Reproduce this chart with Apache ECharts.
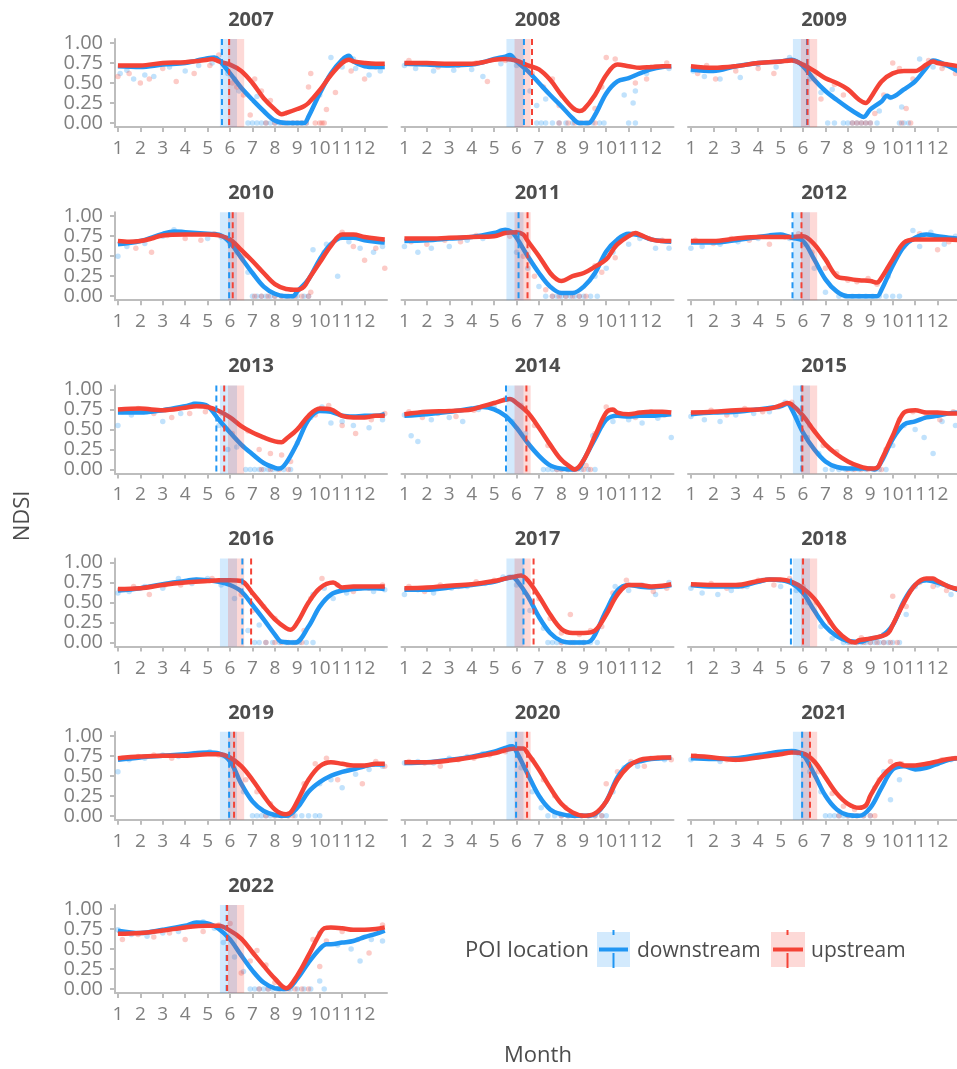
<!DOCTYPE html>
<html><head><meta charset="utf-8">
<script src="https://cdn.jsdelivr.net/npm/echarts@6/dist/echarts.min.js"></script>
<style>html,body{margin:0;padding:0;background:#fff}#c{width:957px;height:1069px}</style>
</head><body><div id="c"></div>
<script>
const years = [2007,2008,2009,2010,2011,2012,2013,2014,2015,2016,2017,2018,2019,2020,2021,2022];
const monthTicks = [1,2,3,4,5,6,7,8,9,10,11,12];
const ndsiTicks = [0,0.25,0.5,0.75,1];
const bandDownstream = [5.55, 6.31];
const bandUpstream = [5.91, 6.63];
const onsetDown = [5.64,6.33,6.18,5.96,6.09,5.53,5.39,5.53,5.93,6.55,6.31,5.46,5.96,5.98,5.96,5.85];
const onsetUp   = [5.96,6.69,6.20,6.12,6.49,5.93,5.74,6.44,5.97,6.94,6.76,6.00,6.18,6.47,6.31,5.87];

const down2007 = [[1,.71],[2,.70],[3,.73],[4,.75],[4.5,.78],[5,.81],[5.3,.82],[5.5,.79],[6,.62],[6.5,.44],[7,.29],[7.5,.15],[8,.03],[8.5,0],[9,0],[9.3,0],[9.5,.08],[10,.37],[10.5,.62],[11,.79],[11.3,.84],[11.5,.77],[12,.71],[12.5,.70],[12.9,.70]];
const up2007 = [[1,.72],[2,.72],[3,.75],[4,.76],[5,.79],[5.2,.80],[5.5,.77],[6,.73],[6.5,.65],[7,.50],[7.5,.31],[8,.17],[8.3,.11],[8.5,.125],[9,.175],[9.3,.21],[9.5,.25],[10,.41],[10.5,.60],[11,.75],[11.3,.79],[11.5,.77],[12,.75],[12.5,.74],[12.9,.74]];
const down2008 = [[1,.74],[2,.73],[3,.72],[4,.73],[4.5,.76],[5,.80],[5.5,.83],[5.7,.85],[6,.77],[6.5,.65],[7,.50],[7.5,.35],[8,.21],[8.5,.06],[8.8,0],[9.2,0],[9.5,.10],[10,.37],[10.5,.52],[11,.56],[11.5,.62],[12,.67],[12.5,.70],[12.9,.71]];
const up2008 = [[1,.75],[2,.75],[3,.74],[4,.74],[4.5,.76],[5,.79],[5.5,.80],[6,.78],[6.5,.72],[7,.67],[7.5,.54],[8,.35],[8.5,.19],[8.8,.15],[9,.17],[9.5,.35],[10,.60],[10.5,.73],[11,.71],[11.5,.69],[12,.70],[12.5,.71],[12.9,.71]];
const down2009 = [[1,.67],[2,.65],[3,.71],[4,.75],[5,.77],[5.5,.79],[6,.71],[6.5,.54],[7,.40],[7.5,.29],[8,.19],[8.5,.10],[8.7,.075],[9,.17],[9.5,.27],[9.75,.34],[9.9,.32],[10.5,.42],[11,.52],[11.5,.69],[11.8,.78],[12,.77],[12.5,.71],[12.9,.65]];
const up2009 = [[1,.71],[2,.69],[3,.71],[4,.75],[5,.77],[5.5,.78],[6,.73],[6.5,.65],[7,.56],[7.5,.50],[8,.42],[8.5,.29],[8.8,.25],[9,.31],[9.5,.52],[10,.62],[10.5,.65],[11,.65],[11.5,.73],[11.8,.77],[12,.75],[12.5,.73],[12.9,.71]];
const down2010 = [[1,.65],[2,.69],[3,.78],[3.5,.81],[4,.80],[5,.78],[5.5,.77],[6,.67],[6.5,.48],[7,.29],[7.5,.12],[8,.03],[8.5,0],[8.8,0],[9,.06],[9.5,.21],[10,.46],[10.5,.65],[11,.73],[11.5,.73],[12,.70],[12.5,.68],[12.9,.67]];
const up2010 = [[1,.69],[1.5,.68],[2,.69],[2.5,.72],[3,.76],[4,.77],[5,.77],[5.5,.76],[6,.71],[6.5,.58],[7,.44],[7.5,.29],[8,.15],[8.5,.09],[9,.08],[9.3,.12],[9.5,.21],[10,.42],[10.5,.63],[11,.77],[11.5,.77],[12,.74],[12.5,.72],[12.9,.71]];
const down2011 = [[1,.69],[2,.70],[3,.72],[4,.74],[5,.79],[5.5,.83],[5.8,.80],[6,.73],[6.5,.50],[7,.29],[7.5,.12],[8,.04],[8.5,.04],[9,.12],[9.5,.29],[10,.56],[10.5,.71],[11,.78],[11.5,.76],[12,.71],[12.5,.69],[12.9,.68]];
const up2011 = [[1,.72],[2,.72],[3,.73],[4,.74],[5,.75],[5.5,.79],[6,.80],[6.3,.77],[6.5,.69],[7,.50],[7.5,.29],[7.8,.21],[8,.19],[8.5,.25],[9,.29],[9.5,.37],[10,.46],[10.3,.58],[10.5,.65],[11,.75],[11.3,.79],[11.5,.77],[12,.71],[12.5,.69],[12.9,.69]];
const down2012 = [[1,.67],[2,.67],[3,.70],[4,.74],[4.5,.76],[5,.77],[5.3,.75],[5.5,.73],[6,.69],[6.5,.46],[7,.21],[7.5,.06],[8,0],[8.5,0],[9,0],[9.3,0],[9.5,.08],[10,.38],[10.5,.62],[11,.73],[11.5,.77],[12,.75],[12.5,.73],[12.9,.72]];
const up2012 = [[1,.69],[2,.69],[3,.72],[4,.74],[5,.74],[5.5,.74],[6,.75],[6.5,.65],[7,.46],[7.5,.25],[8,.22],[8.5,.20],[9,.19],[9.3,.17],[9.5,.23],[10,.46],[10.5,.67],[11,.71],[11.5,.71],[12,.71],[12.5,.71],[12.9,.70]];
const down2013 = [[1,.71],[2,.71],[3,.74],[4,.79],[4.5,.82],[5,.79],[5.5,.62],[6,.46],[6.5,.31],[7,.19],[7.5,.08],[8,.02],[8.2,.01],[8.5,.08],[9,.33],[9.5,.62],[10,.73],[10.5,.72],[11,.67],[11.5,.66],[12,.67],[12.5,.67],[12.9,.69]];
const up2013 = [[1,.75],[2,.76],[3,.74],[4,.77],[4.5,.79],[5,.78],[5.5,.73],[6,.65],[6.5,.54],[7,.46],[7.5,.40],[8,.35],[8.3,.34],[8.5,.38],[9,.50],[9.5,.67],[10,.76],[10.5,.75],[11,.67],[11.5,.65],[12,.65],[12.5,.67],[12.9,.67]];
const down2014 = [[1,.67],[2,.69],[3,.72],[4,.76],[4.5,.78],[5,.75],[5.5,.67],[6,.52],[6.5,.33],[7,.17],[7.5,.05],[8,.01],[8.5,0],[8.8,.02],[9,.12],[9.5,.38],[10,.62],[10.5,.67],[11,.66],[11.5,.67],[12,.67],[12.5,.68],[12.9,.69]];
const up2014 = [[1,.69],[2,.72],[3,.73],[4,.75],[4.5,.79],[5,.83],[5.5,.87],[5.7,.88],[6,.83],[6.5,.71],[7,.52],[7.5,.31],[8,.12],[8.5,.01],[8.6,0],[9,.12],[9.5,.42],[10,.71],[10.3,.75],[10.5,.71],[11,.69],[11.5,.71],[12,.72],[12.5,.72],[12.9,.71]];
const down2015 = [[1,.69],[2,.71],[3,.72],[4,.75],[5,.79],[5.3,.82],[5.5,.75],[6,.46],[6.5,.25],[7,.10],[7.5,.03],[8,.01],[9,.01],[9.2,0],[9.5,.10],[10,.38],[10.5,.56],[11,.60],[11.5,.65],[12,.67],[12.5,.70],[12.9,.71]];
const up2015 = [[1,.71],[2,.72],[3,.74],[4,.75],[4.5,.76],[5,.80],[5.3,.83],[5.5,.81],[6,.67],[6.5,.48],[7,.31],[7.5,.19],[8,.10],[8.5,.04],[9,.01],[9.3,.02],[9.5,.12],[10,.42],[10.5,.71],[11,.74],[11.5,.71],[12,.71],[12.5,.70],[12.9,.70]];
const down2016 = [[1,.65],[2,.68],[3,.73],[4,.77],[4.5,.79],[5,.78],[5.5,.76],[6,.72],[6.5,.64],[7,.47],[7.5,.29],[8,.10],[8.3,.01],[8.9,0],[9.5,.20],[10,.45],[10.5,.60],[11,.65],[11.5,.67],[12,.68],[12.5,.68],[12.9,.67]];
const up2016 = [[1,.67],[2,.68],[3,.72],[4,.75],[5,.77],[5.5,.78],[6,.78],[6.5,.77],[7,.62],[7.5,.45],[8,.29],[8.5,.18],[8.7,.16],[9,.25],[9.5,.50],[10,.68],[10.6,.75],[11,.69],[11.5,.70],[12,.70],[12.5,.70],[12.9,.70]];
const down2017 = [[1,.66],[2,.66],[3,.69],[4,.72],[5,.76],[5.5,.80],[5.8,.82],[6,.78],[6.5,.58],[7,.32],[7.5,.12],[8,.02],[8.5,0],[9,0],[9.3,.02],[9.5,.10],[10,.40],[10.5,.65],[11,.72],[11.5,.70],[12,.69],[12.5,.70],[12.9,.72]];
const up2017 = [[1,.68],[2,.69],[3,.71],[4,.73],[5,.77],[5.5,.80],[6,.83],[6.2,.84],[6.5,.78],[7,.58],[7.5,.35],[8,.17],[8.5,.12],[9,.12],[9.5,.15],[10,.35],[10.5,.60],[11,.72],[11.5,.72],[12,.70],[12.5,.71],[12.9,.73]];
const down2018 = [[1,.72],[2,.70],[3,.70],[4,.76],[4.5,.79],[5,.78],[5.5,.74],[6,.62],[6.5,.40],[7,.20],[7.5,.08],[8,.02],[8.5,.01],[9,.05],[9.5,.08],[10,.22],[10.5,.52],[11,.72],[11.5,.78],[12,.75],[12.5,.70],[12.9,.66]];
const up2018 = [[1,.73],[2,.72],[3,.72],[4,.77],[4.5,.79],[5,.79],[5.5,.76],[6,.68],[6.5,.55],[7,.35],[7.5,.15],[8,.03],[8.3,0],[8.5,.03],[9,.05],[9.5,.08],[9.8,.12],[10,.22],[10.5,.50],[11,.72],[11.5,.80],[11.8,.80],[12,.77],[12.5,.70],[12.9,.67]];
const down2019 = [[1,.70],[2,.73],[3,.75],[4,.77],[5,.79],[5.5,.78],[6,.68],[6.5,.40],[7,.18],[7.5,.06],[8,.01],[8.5,0],[9,.10],[9.5,.30],[10,.42],[10.5,.50],[11,.55],[11.5,.58],[12,.62],[12.5,.64],[12.9,.64]];
const up2019 = [[1,.72],[2,.74],[3,.75],[4,.75],[5,.77],[5.5,.77],[6,.73],[6.5,.62],[7,.45],[7.5,.25],[8,.08],[8.5,.02],[8.7,.04],[9,.18],[9.5,.45],[10,.62],[10.5,.67],[11,.65],[11.5,.63],[12,.63],[12.5,.65],[12.9,.65]];
const down2020 = [[1,.66],[2,.67],[3,.70],[4,.74],[5,.80],[5.5,.85],[5.8,.87],[6,.80],[6.5,.52],[7,.25],[7.5,.08],[8,.02],[8.5,0],[9,0],[9.5,.02],[10,.18],[10.5,.48],[11,.64],[11.5,.68],[12,.71],[12.5,.72],[12.9,.73]];
const up2020 = [[1,.67],[2,.67],[3,.69],[4,.73],[5,.78],[5.5,.82],[6,.84],[6.3,.84],[6.5,.78],[7,.58],[7.5,.35],[8,.15],[8.5,.04],[9,0],[9.5,.03],[10,.18],[10.5,.45],[11,.62],[11.5,.70],[12,.72],[12.5,.73],[12.9,.73]];
const down2021 = [[1,.72],[2,.71],[3,.72],[4,.76],[5,.80],[5.5,.81],[6,.76],[6.5,.52],[7,.25],[7.5,.08],[8,.01],[8.5,0],[9,.10],[9.5,.35],[10,.58],[10.5,.62],[11,.58],[11.5,.60],[12,.65],[12.5,.70],[12.9,.72]];
const up2021 = [[1,.75],[2,.73],[3,.70],[4,.73],[5,.77],[5.5,.79],[6,.78],[6.5,.68],[7,.48],[7.5,.28],[8,.15],[8.5,.10],[8.8,.13],[9,.25],[9.5,.48],[10,.62],[10.3,.65],[10.5,.63],[11,.63],[11.5,.65],[12,.68],[12.5,.71],[12.9,.72]];
const down2022 = [[1,.73],[2,.70],[3,.74],[4,.79],[4.5,.83],[5,.82],[5.5,.75],[6,.62],[6.5,.42],[7,.23],[7.5,.08],[8,.01],[8.5,0],[9,.13],[9.5,.33],[10,.50],[10.3,.56],[10.5,.56],[11,.58],[11.5,.60],[12,.65],[12.5,.69],[12.9,.73]];
const up2022 = [[1,.69],[2,.70],[3,.73],[4,.77],[5,.79],[5.5,.79],[6,.73],[6.5,.63],[7,.46],[7.5,.29],[8,.13],[8.5,.01],[9,.17],[9.5,.42],[10,.69],[10.2,.76],[10.5,.77],[11,.76],[11.5,.74],[12,.74],[12.5,.75],[12.9,.77]];

const ptsDown2007 = [[1.1,.62],[1.4,.66],[1.7,.55],[2.2,.60],[2.6,.58],[3.3,.70],[4.0,.65],[4.6,.72],[5.2,.75],[5.8,.70],[5.9,.62],[6.2,.55],[6.4,.40],[7.2,.33],[6.8,0],[7.0,0],[7.2,0],[7.4,0],[7.6,0],[7.8,0],[8.0,0],[8.2,0],[8.4,0],[8.6,0],[8.8,0],[9.0,0],[9.2,0],[9.4,0],[10.0,.35],[10.5,.82],[11.0,.70],[11.2,.82],[11.5,.80],[11.6,.68],[12.2,.60],[12.7,.65]];
const ptsUp2007 = [[1.0,.58],[1.5,.62],[2.0,.50],[2.4,.55],[3.0,.68],[3.6,.52],[4.4,.62],[5.1,.72],[5.5,.85],[6.1,.50],[6.3,.45],[6.6,.35],[6.9,.1],[7.1,.55],[7.4,.40],[7.8,.28],[7.6,0],[8.0,0],[8.3,0],[8.5,0],[8.8,0],[9.0,0],[9.2,0],[9.4,0],[9.5,.45],[9.6,.62],[9.8,0],[10.0,0],[10.1,0],[10.2,0],[10.3,.17],[10.7,.38],[11.0,.78],[11.2,.82],[11.4,.65],[12.0,.55],[12.5,.70]];
const ptsDown2008 = [[1.0,.72],[1.5,.68],[2.3,.65],[3.2,.66],[4.0,.67],[4.5,.58],[5.3,.74],[6.0,.72],[6.6,.40],[6.9,.22],[7.3,.30],[6.9,0],[7.1,0],[7.3,0],[7.6,0],[7.9,0],[8.2,0],[8.5,0],[8.8,0],[9.1,0],[9.4,0],[9.7,0],[9.9,0],[10.8,.35],[11.0,0],[11.3,0],[11.2,.25],[11.3,.40],[11.8,.62],[12.3,.70],[12.8,.68]];
const ptsUp2008 = [[1.2,.78],[1.8,.74],[2.5,.70],[3.4,.72],[4.2,.75],[4.7,.52],[5.5,.78],[6.2,.75],[6.7,.62],[7.2,.45],[7.6,.55],[7.9,.22],[7.9,0],[8.3,0],[8.6,0],[8.9,0],[9.2,0],[9.5,0],[9.5,.18],[9.8,.45],[10.0,.82],[10.4,.80],[11.3,.50],[11.8,.55],[12.2,.70],[12.7,.75]];
const ptsDown2009 = [[1.1,.65],[1.6,.58],[2.3,.55],[3.2,.57],[4.0,.73],[4.8,.70],[5.4,.82],[6.3,.55],[6.8,.38],[7.3,.42],[7.1,0],[7.4,0],[7.8,0],[8.0,0],[8.2,0],[8.4,0],[8.6,0],[8.8,0],[9.0,0],[9.3,0],[9.4,.15],[9.9,.32],[10.3,0],[10.5,0],[10.7,0],[10.4,.20],[11.2,.80],[11.8,.70],[12.3,.72],[12.9,.65]];
const ptsUp2009 = [[1.3,.62],[1.7,.72],[2.1,.55],[3.0,.65],[4.0,.68],[4.7,.62],[5.3,.78],[6.2,.65],[6.8,.30],[7.4,.48],[7.8,.35],[8.2,0],[8.4,0],[8.6,0],[8.8,0],[9.0,0],[9.2,.12],[9.6,.35],[10.0,.75],[10.3,.68],[10.4,0],[10.6,.18],[10.8,0],[10.9,.55],[11.6,.78],[12.2,.68],[12.8,.62]];
const ptsDown2010 = [[1.0,.50],[1.4,.62],[2.2,.66],[3.0,.75],[3.5,.83],[4.3,.78],[5.0,.72],[5.6,.74],[6.3,.55],[6.8,.30],[7.0,0],[7.2,0],[7.4,0],[7.6,0],[7.8,0],[8.0,0],[8.3,0],[8.5,0],[8.8,0],[9.0,0],[9.3,0],[9.5,0],[9.7,.58],[10.3,.65],[10.8,.25],[11.3,.68],[11.8,.60],[12.4,.55],[12.8,.62]];
const ptsUp2010 = [[1.2,.66],[1.8,.60],[2.5,.55],[3.2,.76],[4.0,.72],[4.7,.70],[5.3,.78],[6.0,.65],[6.6,.50],[7.1,0],[7.4,0],[7.7,0],[8.0,0],[8.3,0],[8.6,0],[8.9,0],[9.2,0],[9.5,0],[9.6,.05],[10.2,.55],[11.0,.80],[11.5,.62],[12.0,.45],[12.5,.60],[12.9,.35]];
const ptsDown2011 = [[1.0,.62],[1.6,.55],[2.2,.60],[3.0,.62],[3.8,.70],[4.5,.72],[5.3,.82],[6.0,.55],[6.5,.35],[7.0,.12],[7.3,0],[7.6,0],[7.8,0],[8.0,0],[8.2,0],[8.4,0],[8.6,0],[8.8,0],[9.0,0],[9.3,0],[9.6,0],[9.5,.25],[10.0,.35],[10.3,.55],[11.0,.65],[11.5,.72],[12.2,.60],[12.8,.60]];
const ptsUp2011 = [[1.3,.68],[2.0,.65],[2.8,.70],[3.5,.68],[4.2,.76],[5.0,.78],[5.7,.75],[6.3,.50],[6.8,.25],[7.3,.08],[7.6,0],[7.9,0],[8.2,0],[8.5,0],[8.8,0],[9.1,0],[9.5,.38],[9.8,.30],[10.4,.48],[11.2,.78],[11.9,.72],[12.5,.70]];
const ptsDown2012 = [[1.0,.60],[1.5,.62],[2.3,.65],[3.1,.68],[4.0,.72],[4.8,.75],[5.4,.72],[6.0,.65],[6.5,.35],[7.0,.05],[7.6,0],[7.9,0],[8.2,0],[8.5,0],[8.8,0],[9.1,0],[9.4,0],[9.7,0],[10.0,0],[10.3,0],[9.8,.25],[10.9,.82],[11.2,.62],[11.7,.80],[12.3,.65],[12.8,.75]];
const ptsUp2012 = [[1.2,.70],[2.0,.66],[2.8,.72],[3.6,.70],[4.5,.65],[5.2,.74],[5.8,.78],[6.4,.55],[7.0,.35],[7.5,.28],[8.0,.20],[8.4,.18],[8.9,.22],[9.3,.15],[9.8,.35],[10.5,.62],[11.2,.78],[12.0,.58],[12.5,.68]];
const ptsDown2013 = [[1.0,.55],[1.6,.68],[2.3,.72],[3.0,.60],[3.8,.70],[4.4,.82],[5.0,.78],[5.5,.55],[5.9,.25],[6.3,.28],[6.7,0],[6.9,0],[7.1,0],[7.3,0],[7.5,0],[7.7,0],[7.9,0],[8.1,0],[8.4,0],[8.7,0],[9.0,.33],[9.6,.65],[10.1,.78],[10.5,.58],[11.0,.60],[11.5,.55],[12.2,.52],[12.8,.62]];
const ptsUp2013 = [[1.2,.72],[1.9,.76],[2.6,.70],[3.4,.65],[4.2,.70],[4.9,.72],[5.6,.70],[6.1,.45],[6.8,.48],[7.3,.25],[7.8,.20],[8.3,.18],[8.7,.10],[7.4,0],[7.8,0],[8.2,0],[8.6,0],[9.2,.55],[9.8,.68],[10.4,.80],[11.0,.55],[11.6,.45],[12.3,.62],[12.9,.70]];
const ptsDown2014 = [[1.0,.68],[1.3,.42],[1.6,.35],[2.2,.62],[3.0,.65],[3.6,.60],[4.3,.75],[5.0,.78],[5.8,.60],[6.4,.45],[7.2,0],[7.4,0],[7.6,0],[7.8,0],[8.0,0],[8.3,0],[8.6,0],[8.9,0],[9.2,0],[9.5,0],[9.4,.42],[9.8,.55],[10.3,.60],[11.0,.62],[11.6,.58],[12.3,.64],[12.9,.40]];
const ptsUp2014 = [[1.2,.72],[1.8,.65],[2.5,.70],[3.3,.66],[4.1,.74],[4.8,.80],[5.5,.88],[6.2,.80],[6.8,.55],[7.4,.30],[7.8,0],[8.0,0],[8.3,0],[8.5,0],[8.7,0],[9.0,0],[9.3,0],[9.1,.05],[9.5,.45],[10.0,.78],[10.6,.68],[11.3,.65],[12.0,.72],[12.6,.68]];
const ptsDown2015 = [[1.0,.66],[1.6,.62],[2.3,.60],[3.0,.68],[3.8,.70],[4.5,.72],[5.2,.84],[5.8,.65],[6.2,.40],[6.7,.20],[7.0,0],[7.3,0],[7.6,0],[7.9,0],[8.2,0],[8.5,0],[8.8,0],[9.1,0],[9.4,0],[9.7,0],[10.0,.30],[10.5,.55],[11.0,.50],[11.4,.40],[11.8,.20],[12.2,.60],[12.8,.55]];
const ptsUp2015 = [[1.2,.70],[1.9,.74],[2.6,.68],[3.4,.76],[4.2,.72],[4.9,.78],[5.5,.84],[6.3,.55],[6.9,.30],[7.5,.22],[8.0,0],[8.3,0],[8.6,0],[8.9,0],[9.2,0],[9.5,0],[9.7,.25],[10.3,.62],[10.9,.72],[11.5,.68],[12.1,.62],[12.7,.72]];
const ptsDown2016 = [[1.0,.62],[1.5,.64],[2.2,.70],[3.0,.68],[3.7,.80],[4.3,.74],[5.0,.80],[5.6,.72],[6.2,.55],[6.8,.15],[7.3,.22],[7.1,0],[7.3,0],[7.6,0],[7.9,0],[8.2,0],[8.5,0],[8.8,0],[9.1,0],[9.4,0],[9.7,0],[9.7,.60],[10.2,.68],[10.6,.55],[11.2,.62],[11.8,.68],[12.4,.64],[12.9,.66]];
const ptsUp2016 = [[1.1,.66],[1.7,.70],[2.4,.60],[3.1,.72],[3.8,.72],[4.5,.78],[5.2,.80],[5.9,.76],[6.5,.60],[7.0,.40],[7.5,.45],[8.0,.30],[7.6,0],[8.0,0],[8.3,0],[8.6,0],[8.9,0],[9.2,0],[9.3,.15],[9.6,.55],[10.1,.80],[10.8,.72],[11.5,.64],[12.2,.68],[12.8,.72]];
const ptsDown2017 = [[1.0,.60],[1.6,.66],[2.3,.62],[3.1,.68],[3.8,.70],[4.6,.74],[5.4,.82],[6.0,.72],[6.6,.40],[7.2,.18],[7.4,0],[7.6,0],[7.8,0],[8.0,0],[8.2,0],[8.4,0],[8.6,0],[8.8,0],[9.0,0],[9.3,0],[9.6,0],[9.9,.32],[10.4,.70],[11.0,.65],[11.6,.72],[12.2,.60],[12.8,.75]];
const ptsUp2017 = [[1.2,.70],[1.9,.64],[2.6,.72],[3.4,.70],[4.2,.76],[5.0,.78],[5.7,.82],[6.4,.80],[7.0,.55],[7.5,.30],[8.0,.12],[8.4,.35],[8.8,.10],[8.0,0],[8.5,0],[9.0,0],[9.3,.15],[9.8,.20],[10.3,.62],[10.9,.78],[11.5,.70],[12.1,.64],[12.7,.68]];
const ptsDown2018 = [[1.0,.68],[1.5,.62],[2.2,.60],[2.8,.65],[3.5,.70],[4.2,.78],[5.0,.70],[5.7,.65],[6.2,.50],[6.8,.20],[7.3,.05],[7.8,0],[8.0,0],[8.2,0],[8.4,0],[8.6,0],[8.8,0],[9.0,0],[9.2,0],[9.4,0],[9.6,0],[9.8,0],[10.0,0],[10.3,0],[10.6,.35],[11.0,.70],[11.4,.78],[12.0,.72],[12.6,.60]];
const ptsUp2018 = [[1.2,.72],[1.9,.74],[2.6,.68],[3.3,.70],[4.0,.78],[4.7,.72],[5.4,.80],[6.0,.70],[6.6,.50],[7.2,.25],[7.6,.10],[8.1,0],[8.4,0],[8.7,0],[9.0,0],[9.3,0],[9.6,0],[9.9,0],[10.2,0],[8.6,.06],[9.6,.10],[10.0,.58],[10.6,.45],[11.2,.75],[11.8,.70],[12.4,.65],[12.9,.68]];
const ptsDown2019 = [[1.0,.55],[1.5,.70],[2.2,.72],[3.0,.76],[3.7,.74],[4.4,.78],[5.1,.80],[5.7,.75],[6.2,.55],[6.6,.30],[7.0,0],[7.2,0],[7.4,0],[7.6,0],[7.8,0],[8.0,0],[8.3,0],[8.6,0],[8.9,0],[9.2,0],[9.5,0],[9.8,0],[10.0,0],[9.4,.28],[10.0,.40],[10.5,.45],[11.0,.35],[11.6,.52],[12.2,.58],[12.8,.62]];
const ptsUp2019 = [[1.2,.72],[1.9,.74],[2.6,.76],[3.4,.72],[4.1,.76],[4.8,.78],[5.5,.76],[6.1,.68],[6.7,.45],[7.2,.30],[7.8,.15],[7.6,0],[8.0,0],[8.3,0],[8.6,0],[8.8,0],[9.3,.40],[9.8,.65],[10.3,.72],[10.8,.45],[11.3,.60],[11.9,.40],[12.5,.68],[12.9,.62]];
const ptsDown2020 = [[1.0,.66],[1.6,.68],[2.3,.66],[3.0,.72],[3.8,.74],[4.5,.78],[5.2,.80],[5.7,.86],[6.2,.60],[6.7,.30],[7.1,.10],[7.4,0],[7.7,0],[8.0,0],[8.3,0],[8.6,0],[8.9,0],[9.2,0],[9.5,0],[9.8,0],[10.0,0],[10.3,.30],[10.8,.60],[11.4,.62],[12.0,.72],[12.6,.70]];
const ptsUp2020 = [[1.2,.68],[1.9,.66],[2.6,.62],[3.4,.70],[4.1,.72],[4.8,.76],[5.5,.80],[6.1,.84],[6.7,.70],[7.2,.45],[7.7,.25],[8.2,.10],[8.0,0],[8.3,0],[8.6,0],[8.9,0],[9.2,0],[9.5,0],[9.8,0],[10.0,.40],[10.5,.55],[11.1,.68],[11.7,.62],[12.3,.72],[12.9,.70]];
const ptsDown2021 = [[1.0,.70],[1.6,.72],[2.3,.68],[3.0,.70],[3.8,.74],[4.5,.78],[5.2,.80],[5.8,.78],[6.3,.55],[6.8,.30],[7.0,0],[7.2,0],[7.4,0],[7.6,0],[7.8,0],[8.0,0],[8.2,0],[8.4,0],[8.7,0],[9.0,0],[8.8,.12],[9.2,.35],[9.6,.55],[9.9,.20],[10.3,.45],[10.8,.60],[11.4,.62],[12.0,.65],[12.6,.70]];
const ptsUp2021 = [[1.2,.75],[1.9,.72],[2.6,.70],[3.4,.72],[4.1,.76],[4.8,.78],[5.5,.80],[6.2,.72],[6.7,.55],[7.3,.28],[7.8,.12],[8.3,.08],[7.6,0],[8.0,0],[8.4,0],[8.7,0],[9.0,0],[9.2,0],[9.4,.45],[9.9,.68],[10.4,.65],[11.0,.60],[11.6,.65],[12.2,.70],[12.8,.72]];
const ptsDown2022 = [[1.0,.74],[1.6,.68],[2.3,.66],[3.0,.70],[3.7,.72],[4.3,.80],[4.8,.84],[5.3,.76],[5.7,.58],[6.2,.40],[6.6,.22],[6.9,0],[7.1,0],[7.3,0],[7.5,0],[7.7,0],[7.9,0],[8.1,0],[8.4,0],[8.7,0],[9.0,0],[9.3,0],[9.6,0],[10.0,.10],[10.2,0],[10.0,.70],[10.8,.55],[11.4,.50],[11.8,.35],[12.3,.62],[12.8,.60]];
const ptsUp2022 = [[1.2,.62],[1.9,.68],[2.6,.65],[3.3,.70],[4.0,.62],[4.8,.72],[5.5,.80],[6.0,.82],[6.5,.20],[6.9,.35],[7.2,.48],[7.6,.30],[8.0,.08],[7.3,0],[7.7,0],[8.2,0],[8.6,0],[8.9,0],[9.2,0],[9.5,0],[9.7,.62],[10.0,.28],[10.3,.60],[11.0,.72],[11.7,.62],[12.2,.45],[12.8,.80]];

const downCurves = [down2007,down2008,down2009,down2010,down2011,down2012,down2013,down2014,down2015,down2016,down2017,down2018,down2019,down2020,down2021,down2022];
const upCurves = [up2007,up2008,up2009,up2010,up2011,up2012,up2013,up2014,up2015,up2016,up2017,up2018,up2019,up2020,up2021,up2022];
const downPts = [ptsDown2007,ptsDown2008,ptsDown2009,ptsDown2010,ptsDown2011,ptsDown2012,ptsDown2013,ptsDown2014,ptsDown2015,ptsDown2016,ptsDown2017,ptsDown2018,ptsDown2019,ptsDown2020,ptsDown2021,ptsDown2022];
const upPts = [ptsUp2007,ptsUp2008,ptsUp2009,ptsUp2010,ptsUp2011,ptsUp2012,ptsUp2013,ptsUp2014,ptsUp2015,ptsUp2016,ptsUp2017,ptsUp2018,ptsUp2019,ptsUp2020,ptsUp2021,ptsUp2022];

const BLUE = '#2196F3', RED = '#F44336';
const BLUE_BAND = 'rgba(33,150,243,0.2)', RED_BAND = 'rgba(244,67,54,0.2)';
const AX = '#bdbdbd';
const FONT = '"Open Sans","Noto Sans",sans-serif';
const XMIN = 0.87, XMAX = 13.0, YMIN = -0.05, YMAX = 1.05;
const colLeft = [115, 401.5, 688];
const rowTop = [39, 212.2, 385.4, 558.6, 731.8, 905];
const PW = 272, PH = 88;

const option = {animation:false, backgroundColor:'#fff', grid:[], xAxis:[], yAxis:[], series:[], graphic:[]};

function bandItem(params, api){
  const x0 = api.value(0), x1 = api.value(1), k = api.value(2);
  const p0 = api.coord([x0, YMAX]), p1 = api.coord([x1, YMIN]);
  return {type:'rect', shape:{x:p0[0], y:p0[1], width:p1[0]-p0[0], height:p1[1]-p0[1]},
    style:{fill: k ? RED_BAND : BLUE_BAND}};
}
function vlineItem(params, api){
  const x = api.value(0), k = api.value(1);
  const p0 = api.coord([x, YMAX]), p1 = api.coord([x, YMIN]);
  return {type:'line', shape:{x1:p0[0], y1:p0[1], x2:p1[0], y2:p1[1]},
    style:{stroke: k ? RED : BLUE, lineWidth:2, lineDash:[6,4]}};
}

years.forEach((yr, i) => {
  const row = Math.floor(i/3), col = i % 3;
  const left = colLeft[col], top = rowTop[row];
  option.grid.push({left:left, top:top, width:PW, height:PH, containLabel:false, outerBoundsMode:'none'});
  option.xAxis.push({type:'value', gridIndex:i, min:XMIN, max:XMAX,
    axisLine:{show:true, onZero:false, lineStyle:{color:AX, width:2}},
    axisTick:{show:true, customValues:monthTicks, length:5, lineStyle:{color:AX, width:2}},
    axisLabel:{show:true, customValues:monthTicks, color:'#7f7f7f', fontSize:19, fontFamily:FONT, margin:12,
      hideOverlap:false},
    splitLine:{show:false}});
  option.yAxis.push({type:'value', gridIndex:i, min:YMIN, max:YMAX, show: col === 0,
    axisLine:{show:true, onZero:false, lineStyle:{color:AX, width:2}},
    axisTick:{show:true, customValues:ndsiTicks, length:5, lineStyle:{color:AX, width:2}},
    axisLabel:{show:true, customValues:ndsiTicks, formatter:v => Number(v).toFixed(2), color:'#7f7f7f', fontSize:20, fontFamily:FONT, margin:12},
    splitLine:{show:false}});
  option.series.push(
    {type:'scatter', xAxisIndex:i, yAxisIndex:i, data:downPts[i], symbolSize:5.5, silent:true, z:2,
      itemStyle:{color:BLUE, opacity:0.28}},
    {type:'scatter', xAxisIndex:i, yAxisIndex:i, data:upPts[i], symbolSize:5.5, silent:true, z:2,
      itemStyle:{color:RED, opacity:0.28}},
    {type:'line', xAxisIndex:i, yAxisIndex:i, data:downCurves[i], smooth:0.35, symbol:'none', silent:true, z:3,
      lineStyle:{color:BLUE, width:4.5}},
    {type:'line', xAxisIndex:i, yAxisIndex:i, data:upCurves[i], smooth:0.35, symbol:'none', silent:true, z:4,
      lineStyle:{color:RED, width:4.5}},
    {type:'custom', xAxisIndex:i, yAxisIndex:i, renderItem:bandItem, silent:true, z:5, encode:{x:[0,1]},
      data:[[bandDownstream[0], bandDownstream[1], 0],[bandUpstream[0], bandUpstream[1], 1]]},
    {type:'custom', xAxisIndex:i, yAxisIndex:i, renderItem:vlineItem, silent:true, z:6, encode:{x:0},
      data:[[onsetDown[i], 0],[onsetUp[i], 1]]}
  );
  option.graphic.push({type:'text', x:left + PW/2, y:top - 19, silent:true,
    style:{text:String(yr), align:'center', verticalAlign:'middle', textAlign:'center', textVerticalAlign:'middle',
      fill:'#4d4d4d', font:'bold 20px ' + FONT}});
});

option.graphic.push(
  {type:'text', x:23, y:516, rotation:Math.PI/2, silent:true,
    style:{text:'NDSI', align:'center', verticalAlign:'middle', textAlign:'center', textVerticalAlign:'middle', fill:'#4d4d4d', font:'22px ' + FONT}},
  {type:'text', x:538, y:1056, silent:true,
    style:{text:'Month', align:'center', verticalAlign:'middle', textAlign:'center', textVerticalAlign:'middle', fill:'#4d4d4d', font:'22px ' + FONT}},
  {type:'text', x:589, y:951, silent:true,
    style:{text:'POI location', align:'right', verticalAlign:'middle', textAlign:'right', textVerticalAlign:'middle', fill:'#4d4d4d', font:'22px ' + FONT}},
  {type:'rect', shape:{x:597, y:932, width:33, height:35}, style:{fill:BLUE_BAND}, silent:true},
  {type:'line', shape:{x1:613.5, y1:930, x2:613.5, y2:935}, style:{stroke:BLUE, lineWidth:2}, silent:true},
  {type:'line', shape:{x1:613.5, y1:953, x2:613.5, y2:968}, style:{stroke:BLUE, lineWidth:2}, silent:true},
  {type:'line', shape:{x1:599, y1:949.5, x2:628, y2:949.5}, style:{stroke:BLUE, lineWidth:4}, silent:true},
  {type:'text', x:637, y:951, silent:true,
    style:{text:'downstream', align:'left', verticalAlign:'middle', textAlign:'left', textVerticalAlign:'middle', fill:'#4d4d4d', font:'21px ' + FONT}},
  {type:'rect', shape:{x:771, y:932, width:34, height:35}, style:{fill:RED_BAND}, silent:true},
  {type:'line', shape:{x1:787.5, y1:930, x2:787.5, y2:935}, style:{stroke:RED, lineWidth:2}, silent:true},
  {type:'line', shape:{x1:787.5, y1:953, x2:787.5, y2:968}, style:{stroke:RED, lineWidth:2}, silent:true},
  {type:'line', shape:{x1:773, y1:949.5, x2:803, y2:949.5}, style:{stroke:RED, lineWidth:4}, silent:true},
  {type:'text', x:811, y:951, silent:true,
    style:{text:'upstream', align:'left', verticalAlign:'middle', textAlign:'left', textVerticalAlign:'middle', fill:'#4d4d4d', font:'21px ' + FONT}}
);

const chart = echarts.init(document.getElementById('c'), null, {renderer:'canvas', width:957, height:1069});
chart.setOption(option);
</script></body></html>
